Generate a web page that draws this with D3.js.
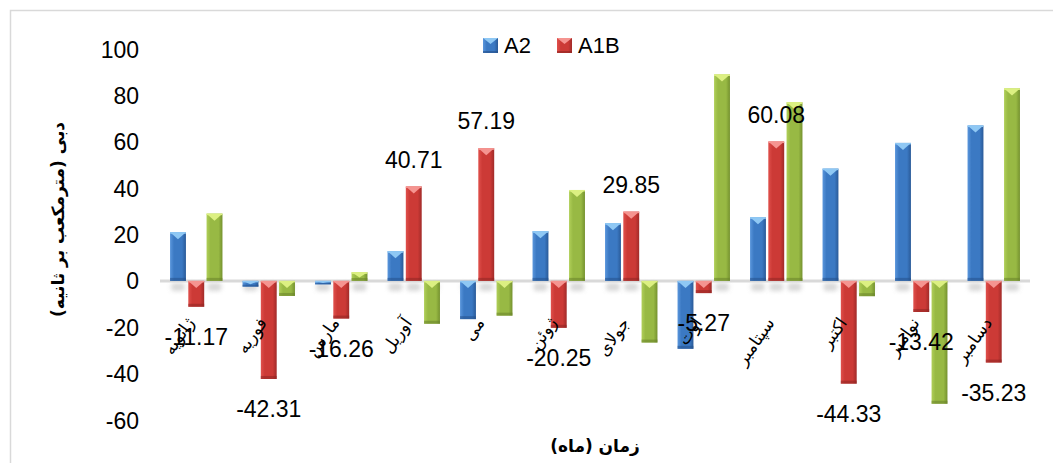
<!DOCTYPE html>
<html>
<head>
<meta charset="utf-8">
<script src="https://cdn.jsdelivr.net/npm/d3@7/dist/d3.min.js"></script>
<style>
  html, body { margin: 0; padding: 0; background: #fff; }
  svg { display: block; }
</style>
</head>
<body>
<svg id="chart" width="1053" height="463"></svg>
<script>
// ---- data ----
const months = ["ژانویه","فوریه","مارس","آوریل","می","ژوئن","جولای","اوت","سپتامبر","اکتبر","نوامبر","دسامبر"];
const seriesA2  = [21, -2.5, -1.5, 12.8, -16.5, 21.4, 24.9, -29.3, 27.4, 48.4, 59.5, 67];
const seriesA1B = [-11.17, -42.31, -16.26, 40.71, 57.19, -20.25, 29.85, -5.27, 60.08, -44.33, -13.42, -35.23];
const seriesB1  = [29, -6.5, 3.7, -18.5, -15, 39.2, -26.6, 89, 77, -6.6, -53, 83];
const seriesNames = ["A2", "A1B", "B1"];
const legendNames = ["A2", "A1B"];
const yTicks = [100, 80, 60, 40, 20, 0, -20, -40, -60];
const yTitle = "دبی (مترمکعب بر ثانیه)";
const xTitle = "زمان (ماه)";

// ---- layout / style ----
const plot = { left: 160, right: 1030, top: 49, bottom: 420 };
const palette = {
  A2:  { light: "#5a96dc", main: "#3b79c3", dark: "#2a5a98", cap: "#8fc8f4", edge: "#24508a" },
  A1B: { light: "#e0504c", main: "#cc3a36", dark: "#a12b29", cap: "#f59490", edge: "#8e2422" },
  B1:  { light: "#b0cf58", main: "#98b944", dark: "#75922f", cap: "#dcf082", edge: "#67822a" }
};
const numFont = "'Liberation Sans', Arial, sans-serif";
const faFont = "'DejaVu Sans', sans-serif";

const svg = d3.select("#chart");
const defs = svg.append("defs");

// chart area border
svg.append("rect").attr("x", 10.5).attr("y", 10.5).attr("width", 1100).attr("height", 500)
  .attr("fill", "#fff").attr("stroke", "#d9d9d9").attr("stroke-width", 1.5);

Object.entries(palette).forEach(([k, c]) => {
  const g = defs.append("linearGradient").attr("id", "grad-" + k)
    .attr("x1", 0).attr("x2", 1).attr("y1", 0).attr("y2", 0);
  g.append("stop").attr("offset", 0).attr("stop-color", c.light);
  g.append("stop").attr("offset", 0.25).attr("stop-color", c.main);
  g.append("stop").attr("offset", 0.75).attr("stop-color", c.main);
  g.append("stop").attr("offset", 1).attr("stop-color", c.dark);
});
const blur = defs.append("filter").attr("id", "shadowBlur")
  .attr("x", "-50%").attr("y", "-50%").attr("width", "200%").attr("height", "200%");
blur.append("feGaussianBlur").attr("stdDeviation", 2);

const data = months.map((m, i) => ({
  month: m,
  values: [
    { key: "A2", v: seriesA2[i] },
    { key: "A1B", v: seriesA1B[i] },
    { key: "B1", v: seriesB1[i] }
  ]
}));

const x0 = d3.scaleBand().domain(months).range([plot.left, plot.right]).paddingInner(0).paddingOuter(0);
const x1 = d3.scaleBand().domain(seriesNames).range([0, x0.bandwidth()]).paddingInner(0.13).paddingOuter(0.55);
const y = d3.scaleLinear().domain([-60, 100]).range([plot.bottom, plot.top]);
const zeroY = y(0);
const fmtTick = d => String(d);
const fmtLabel = v => v.toFixed(2);

// shadows
const shadowG = svg.append("g");
data.forEach(d => {
  d.values.forEach(s => {
    const bx = x0(d.month) + x1(s.key);
    shadowG.append("rect")
      .attr("x", bx + 1).attr("y", zeroY + 2)
      .attr("width", x1.bandwidth() - 2).attr("height", 8)
      .attr("rx", 3)
      .attr("fill", "#bfbfbf").attr("opacity", 0.6)
      .attr("filter", "url(#shadowBlur)");
  });
});

// zero line
svg.append("line").attr("x1", plot.left).attr("x2", plot.right)
  .attr("y1", zeroY).attr("y2", zeroY)
  .attr("stroke", "#d9d9d9").attr("stroke-width", 3);

// bars
const groups = svg.append("g").selectAll("g").data(data).join("g")
  .attr("transform", d => `translate(${x0(d.month)},0)`);

groups.each(function(d) {
  const g = d3.select(this);
  d.values.forEach(s => {
    const c = palette[s.key];
    const bx = x1(s.key), bw = x1.bandwidth();
    const top = Math.min(y(s.v), zeroY), bot = Math.max(y(s.v), zeroY);
    const h = bot - top;
    g.append("rect").attr("x", bx).attr("y", top).attr("width", bw).attr("height", h)
      .attr("fill", `url(#grad-${s.key})`);
    const eh = Math.min(3, h / 3);
    g.append("rect").attr("x", bx).attr("y", bot - eh).attr("width", bw).attr("height", eh)
      .attr("fill", c.edge).attr("opacity", 0.55);
    const th = Math.min(7, h * 0.6);
    g.append("path")
      .attr("d", `M${bx},${top} L${bx + bw},${top} L${bx + bw / 2},${top + th} Z`)
      .attr("fill", c.cap);
    g.append("rect").attr("x", bx).attr("y", top).attr("width", bw).attr("height", Math.min(1.5, h))
      .attr("fill", c.cap);
  });
});

// y axis tick labels
const yAxis = d3.axisLeft(y).tickValues(yTicks).tickSize(0).tickPadding(0).tickFormat(fmtTick);
const yg = svg.append("g").attr("transform", `translate(139,0)`).call(yAxis);
yg.select(".domain").remove();
yg.selectAll("text").attr("font-family", numFont).attr("font-size", 23).attr("fill", "#000")
  .attr("dy", "0.35em");

// x axis labels (rotated)
const xAxis = d3.axisBottom(x0).tickSize(0).tickPadding(0);
const xg = svg.append("g").attr("transform", `translate(0,${zeroY})`).call(xAxis);
xg.select(".domain").remove();
xg.selectAll(".tick text")
  .attr("font-family", faFont).attr("font-size", 17).attr("fill", "#000")
  .attr("text-anchor", "end")
  .attr("x", 0).attr("y", 0).attr("dy", 0)
  .attr("transform", "translate(-1,42) rotate(-55)");

// data labels for A1B
svg.append("g").selectAll("text").data(data).join("text")
  .attr("x", d => x0(d.month) + x1("A1B") + x1.bandwidth() / 2)
  .attr("y", d => {
    const v = d.values[1].v;
    return v >= 0 ? y(v) - 27 : y(v) + 30;
  })
  .attr("dy", "0.35em")
  .attr("text-anchor", "middle")
  .attr("font-family", numFont).attr("font-size", 23).attr("fill", "#000")
  .text(d => fmtLabel(d.values[1].v));

// legend
const legendX = [483, 557];
const lg = svg.append("g");
legendNames.forEach((n, i) => {
  const c = palette[n];
  const gx = legendX[i], gy = 38;
  lg.append("rect").attr("x", gx).attr("y", gy).attr("width", 15).attr("height", 15)
    .attr("fill", `url(#grad-${n})`);
  lg.append("path").attr("d", `M${gx},${gy} L${gx + 15},${gy} L${gx + 7.5},${gy + 6} Z`).attr("fill", c.cap);
  lg.append("rect").attr("x", gx).attr("y", gy + 13).attr("width", 15).attr("height", 2).attr("fill", c.edge).attr("opacity", 0.6);
  lg.append("text").attr("x", gx + 21).attr("y", gy + 7.5).attr("dy", "0.35em")
    .attr("font-family", numFont).attr("font-size", 22).attr("fill", "#000").text(n);
});

// axis titles
svg.append("text")
  .attr("transform", `translate(58,${(plot.top + plot.bottom) / 2 - 15}) rotate(-90)`)
  .attr("text-anchor", "middle").attr("dy", "0.35em")
  .attr("direction", "rtl").style("direction", "rtl").style("unicode-bidi", "embed")
  .attr("font-family", faFont).attr("font-weight", "bold").attr("font-size", 17)
  .text(yTitle);

svg.append("text")
  .attr("x", (plot.left + plot.right) / 2).attr("y", 446)
  .attr("text-anchor", "middle").attr("dy", "0.35em")
  .attr("direction", "rtl").style("direction", "rtl").style("unicode-bidi", "embed")
  .attr("font-family", faFont).attr("font-weight", "bold").attr("font-size", 17)
  .text(xTitle);
</script>
</body>
</html>
